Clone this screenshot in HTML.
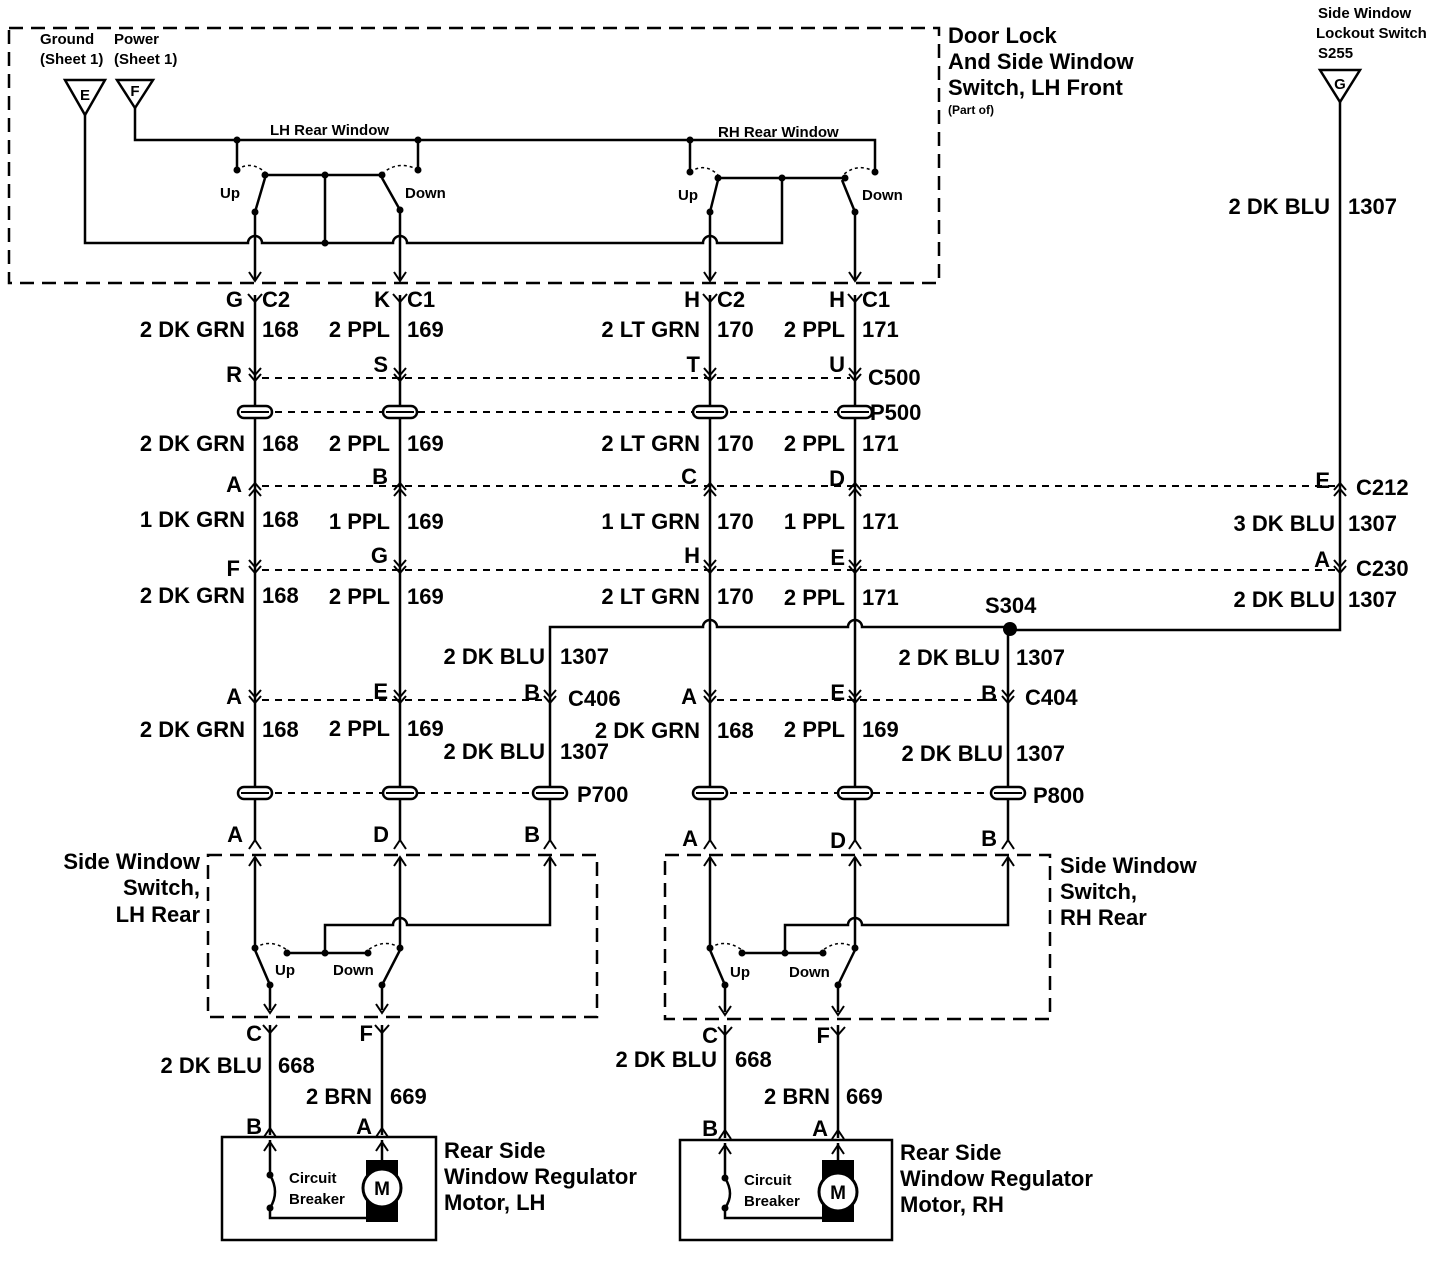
<!DOCTYPE html>
<html><head><meta charset="utf-8"><style>
html,body{margin:0;padding:0;background:#fff}
svg{display:block}
text{font-family:"Liberation Sans",sans-serif;font-weight:bold;fill:#000;font-size:22px}
.s{font-size:15px}
.r{text-anchor:end}
</style></head><body>
<svg width="1438" height="1264" viewBox="0 0 1438 1264">
<defs>
<path id="dn" d="M-6,-10 L0,-3 L6,-10 M-6,-4 L0,3 L6,-4" fill="none" stroke="#000" stroke-width="2"/>
<path id="up" d="M-6,10 L0,3 L6,10 M-6,4 L0,-3 L6,4" fill="none" stroke="#000" stroke-width="2"/>
<path id="yy" d="M-7,-8 L0,0 L7,-8" fill="none" stroke="#000" stroke-width="2"/>
<path id="ah" d="M-6,-9 L0,0 L6,-9" fill="none" stroke="#000" stroke-width="2"/>
<path id="au" d="M-6,9 L0,0 L6,9" fill="none" stroke="#000" stroke-width="2"/>
<g id="gr"><rect x="-17" y="-6" width="34" height="12" rx="6" fill="#fff" stroke="#000" stroke-width="2.5"/><line x1="-14" y1="0" x2="14" y2="0" stroke="#000" stroke-width="2"/></g>
</defs>
<g fill="none" stroke="#000" stroke-width="2.5">
<rect x="9" y="28" width="930" height="255" stroke-dasharray="14,8"/>
<path d="M65,80 L105,80 L85,115 Z"/>
<path d="M117,80 L153,80 L135,108 Z"/>
<path d="M1320,70 L1360,70 L1340,102 Z"/>
<path d="M135,108 V140 H875 V172"/>
<path d="M237,140 V170 M418,140 V170 M690,140 V172"/>
<path d="M85,115 V243 H248 a7,7 0 0 1 14,0 H393 a7,7 0 0 1 14,0 H703 a7,7 0 0 1 14,0 H782 V178"/>
<path d="M325,175 V243"/>
<path d="M265,175 H382 M715,178 H845"/>
<path d="M255,212 L265,178 M400,210 L382,178 M710,212 L718,180 M855,212 L842,180"/>
<path d="M255,212 V280 M400,210 V280 M710,212 V280 M855,212 V280"/>
<path d="M255,295 V840 M400,295 V840 M710,295 V840 M855,295 V840"/>
<path d="M1340,102 V630 H1008 M1008,627 V840"/>
<path d="M1008,627 H862 a7,7 0 0 0 -14,0 H717 a7,7 0 0 0 -14,0 H550 V840"/>
</g>
<g stroke="#000" stroke-width="1.5" fill="none" stroke-dasharray="3,3">
<path d="M237,170 Q250,160 265,172 M418,170 Q400,160 384,172 M690,172 Q705,162 718,175 M875,172 Q858,162 843,175"/>
<path d="M255,948 Q270,938 287,950 M400,948 Q385,938 368,950 M710,948 Q725,938 742,950 M855,948 Q840,938 823,950"/>
</g>
<g stroke="#000" stroke-width="2" stroke-dasharray="7,6">
<path d="M262,378 H850 M262,412 H850 M262,486 H1335 M262,570 H1335 M262,700 H545 M717,700 H1003 M262,793 H540 M717,793 H998"/>
</g>
<g fill="#000">
<circle cx="237" cy="140" r="3.5"/><circle cx="418" cy="140" r="3.5"/><circle cx="690" cy="140" r="3.5"/>
<circle cx="237" cy="170" r="3.5"/><circle cx="418" cy="170" r="3.5"/><circle cx="690" cy="172" r="3.5"/><circle cx="875" cy="172" r="3.5"/>
<circle cx="265" cy="175" r="3.5"/><circle cx="382" cy="175" r="3.5"/><circle cx="325" cy="175" r="3.5"/><circle cx="325" cy="243" r="3.5"/>
<circle cx="718" cy="178" r="3.5"/><circle cx="845" cy="178" r="3.5"/><circle cx="782" cy="178" r="3.5"/>
<circle cx="255" cy="212" r="3.5"/><circle cx="400" cy="210" r="3.5"/><circle cx="710" cy="212" r="3.5"/><circle cx="855" cy="212" r="3.5"/>
<circle cx="1010" cy="629" r="7"/>
</g>
<use href="#ah" x="255" y="281"/><use href="#ah" x="400" y="281"/><use href="#ah" x="710" y="281"/><use href="#ah" x="855" y="281"/>
<use href="#yy" x="255" y="302"/><use href="#yy" x="400" y="302"/><use href="#yy" x="710" y="302"/><use href="#yy" x="855" y="302"/>
<use href="#dn" x="255" y="378"/><use href="#dn" x="400" y="378"/><use href="#dn" x="710" y="378"/><use href="#dn" x="855" y="378"/>
<use href="#gr" x="255" y="412"/><use href="#gr" x="400" y="412"/><use href="#gr" x="710" y="412"/><use href="#gr" x="855" y="412"/>
<use href="#up" x="255" y="486"/><use href="#up" x="400" y="486"/><use href="#up" x="710" y="486"/><use href="#up" x="855" y="486"/><use href="#up" x="1340" y="486"/>
<use href="#dn" x="255" y="570"/><use href="#dn" x="400" y="570"/><use href="#dn" x="710" y="570"/><use href="#dn" x="855" y="570"/><use href="#dn" x="1340" y="570"/>
<use href="#dn" x="255" y="700"/><use href="#dn" x="400" y="700"/><use href="#dn" x="550" y="700"/><use href="#dn" x="710" y="700"/><use href="#dn" x="855" y="700"/><use href="#dn" x="1008" y="700"/>
<use href="#gr" x="255" y="793"/><use href="#gr" x="400" y="793"/><use href="#gr" x="550" y="793"/><use href="#gr" x="710" y="793"/><use href="#gr" x="855" y="793"/><use href="#gr" x="1008" y="793"/>
<use href="#au" x="255" y="840"/><use href="#au" x="400" y="840"/><use href="#au" x="550" y="840"/><use href="#au" x="710" y="840"/><use href="#au" x="855" y="840"/><use href="#au" x="1008" y="840"/>
<g fill="none" stroke="#000" stroke-width="2.5">
<rect x="208" y="855" width="389" height="162" stroke-dasharray="14,8"/>
<rect x="665" y="855" width="385" height="164" stroke-dasharray="14,8"/>
<path d="M255,857 V948 M400,857 V948 M550,857 V925 H407 a7,7 0 0 0 -14,0 H325 V953 M287,953 H368 M270,985 L255,950 M382,985 L400,950 M270,985 V1010 M382,985 V1010"/>
<path d="M710,857 V948 M855,857 V948 M1008,857 V925 H862 a7,7 0 0 0 -14,0 H785 V953 M742,953 H823 M725,985 L710,950 M838,985 L855,950 M725,985 V1012 M838,985 V1012"/>
<path d="M270,1025 V1135 M382,1025 V1135 M725,1025 V1138 M838,1025 V1138"/>
<rect x="222" y="1137" width="214" height="103"/>
<rect x="680" y="1140" width="212" height="100"/>
<path d="M270,1140 V1175 M270,1210 V1218 H382 V1210 M382,1140 V1160"/>
<path d="M725,1143 V1178 M725,1210 V1218 H838 V1210 M838,1143 V1160"/>
<path d="M270,1175 Q280,1192 270,1208 M725,1178 Q735,1194 725,1208"/>
</g>
<g fill="#000">
<circle cx="255" cy="948" r="3.5"/><circle cx="400" cy="948" r="3.5"/><circle cx="287" cy="953" r="3.5"/><circle cx="368" cy="953" r="3.5"/><circle cx="325" cy="953" r="3.5"/>
<circle cx="270" cy="985" r="3.5"/><circle cx="382" cy="985" r="3.5"/>
<circle cx="710" cy="948" r="3.5"/><circle cx="855" cy="948" r="3.5"/><circle cx="742" cy="953" r="3.5"/><circle cx="823" cy="953" r="3.5"/><circle cx="785" cy="953" r="3.5"/>
<circle cx="725" cy="985" r="3.5"/><circle cx="838" cy="985" r="3.5"/>
<circle cx="270" cy="1175" r="3.5"/><circle cx="270" cy="1208" r="3.5"/><circle cx="725" cy="1178" r="3.5"/><circle cx="725" cy="1208" r="3.5"/>
<rect x="366" y="1160" width="32" height="62"/><rect x="822" y="1160" width="32" height="62"/>
</g>
<circle cx="382" cy="1188" r="19" fill="#fff" stroke="#000" stroke-width="3"/>
<circle cx="838" cy="1192" r="19" fill="#fff" stroke="#000" stroke-width="3"/>
<use href="#au" x="255" y="857"/><use href="#au" x="400" y="857"/><use href="#au" x="550" y="857"/><use href="#au" x="710" y="857"/><use href="#au" x="855" y="857"/><use href="#au" x="1008" y="857"/>
<use href="#ah" x="270" y="1013"/><use href="#ah" x="382" y="1013"/><use href="#ah" x="725" y="1015"/><use href="#ah" x="838" y="1015"/>
<use href="#yy" x="270" y="1033"/><use href="#yy" x="382" y="1033"/><use href="#yy" x="725" y="1035"/><use href="#yy" x="838" y="1035"/>
<use href="#au" x="270" y="1128"/><use href="#au" x="382" y="1128"/><use href="#au" x="725" y="1130"/><use href="#au" x="838" y="1130"/>
<use href="#au" x="270" y="1142"/><use href="#au" x="382" y="1142"/><use href="#au" x="725" y="1145"/><use href="#au" x="838" y="1145"/>

<text x="948" y="43">Door Lock</text>
<text x="948" y="69">And Side Window</text>
<text x="948" y="95">Switch, LH Front</text>
<text x="948" y="114" style="font-size:12px">(Part of)</text>
<text x="40" y="44" class="s">Ground</text><text x="40" y="64" class="s">(Sheet 1)</text>
<text x="114" y="44" class="s">Power</text><text x="114" y="64" class="s">(Sheet 1)</text>
<text x="85" y="100" class="s" text-anchor="middle">E</text><text x="135" y="96" class="s" text-anchor="middle">F</text>
<text x="1340" y="89" class="s" text-anchor="middle">G</text>
<text x="1318" y="18" class="s">Side Window</text><text x="1316" y="38" class="s">Lockout Switch</text><text x="1318" y="58" class="s">S255</text>
<text x="270" y="135" class="s">LH Rear Window</text><text x="718" y="137" class="s">RH Rear Window</text>
<text x="220" y="198" class="s">Up</text><text x="405" y="198" class="s">Down</text>
<text x="678" y="200" class="s">Up</text><text x="862" y="200" class="s">Down</text>

<text x="243" y="307" class="r">G</text><text x="262" y="307">C2</text>
<text x="390" y="307" class="r">K</text><text x="407" y="307">C1</text>
<text x="700" y="307" class="r">H</text><text x="717" y="307">C2</text>
<text x="845" y="307" class="r">H</text><text x="862" y="307">C1</text>

<text x="245" y="337" class="r">2 DK GRN</text><text x="390" y="337" class="r">2 PPL</text><text x="700" y="337" class="r">2 LT GRN</text><text x="845" y="337" class="r">2 PPL</text>
<text x="242" y="382" class="r">R</text><text x="388" y="372" class="r">S</text><text x="700" y="372" class="r">T</text><text x="845" y="372" class="r">U</text>
<text x="245" y="451" class="r">2 DK GRN</text><text x="390" y="451" class="r">2 PPL</text><text x="700" y="451" class="r">2 LT GRN</text><text x="845" y="451" class="r">2 PPL</text>
<text x="242" y="492" class="r">A</text><text x="388" y="484" class="r">B</text><text x="697" y="484" class="r">C</text><text x="845" y="486" class="r">D</text><text x="1330" y="488" class="r">E</text>
<text x="245" y="527" class="r">1 DK GRN</text><text x="390" y="529" class="r">1 PPL</text><text x="700" y="529" class="r">1 LT GRN</text><text x="845" y="529" class="r">1 PPL</text><text x="1335" y="531" class="r">3 DK BLU</text>
<text x="240" y="576" class="r">F</text><text x="388" y="563" class="r">G</text><text x="700" y="563" class="r">H</text><text x="845" y="565" class="r">E</text><text x="1330" y="567" class="r">A</text>
<text x="245" y="603" class="r">2 DK GRN</text><text x="390" y="604" class="r">2 PPL</text><text x="700" y="604" class="r">2 LT GRN</text><text x="845" y="605" class="r">2 PPL</text><text x="1335" y="607" class="r">2 DK BLU</text>
<text x="545" y="664" class="r">2 DK BLU</text><text x="1000" y="665" class="r">2 DK BLU</text>
<text x="242" y="704" class="r">A</text><text x="388" y="699" class="r">E</text><text x="540" y="700" class="r">B</text><text x="697" y="704" class="r">A</text><text x="845" y="700" class="r">E</text><text x="997" y="701" class="r">B</text>
<text x="245" y="737" class="r">2 DK GRN</text><text x="390" y="736" class="r">2 PPL</text><text x="700" y="738" class="r">2 DK GRN</text><text x="845" y="737" class="r">2 PPL</text>
<text x="545" y="759" class="r">2 DK BLU</text><text x="1003" y="761" class="r">2 DK BLU</text>
<text x="243" y="842" class="r">A</text><text x="389" y="842" class="r">D</text><text x="540" y="842" class="r">B</text><text x="698" y="846" class="r">A</text><text x="846" y="848" class="r">D</text><text x="997" y="846" class="r">B</text>
<text x="1330" y="214" class="r">2 DK BLU</text>
<text x="262" y="337">168</text><text x="407" y="337">169</text><text x="717" y="337">170</text><text x="862" y="337">171</text>
<text x="868" y="385">C500</text><text x="870" y="420">P500</text>
<text x="262" y="451">168</text><text x="407" y="451">169</text><text x="717" y="451">170</text><text x="862" y="451">171</text>
<text x="1356" y="495">C212</text>
<text x="262" y="527">168</text><text x="407" y="529">169</text><text x="717" y="529">170</text><text x="862" y="529">171</text><text x="1348" y="531">1307</text>
<text x="1356" y="576">C230</text>
<text x="262" y="603">168</text><text x="407" y="604">169</text><text x="717" y="604">170</text><text x="862" y="605">171</text><text x="1348" y="607">1307</text>
<text x="985" y="613">S304</text>
<text x="560" y="664">1307</text><text x="1016" y="665">1307</text>
<text x="568" y="706">C406</text><text x="1025" y="705">C404</text>
<text x="262" y="737">168</text><text x="407" y="736">169</text><text x="717" y="738">168</text><text x="862" y="737">169</text>
<text x="560" y="759">1307</text><text x="1016" y="761">1307</text>
<text x="577" y="802">P700</text><text x="1033" y="803">P800</text>
<text x="1348" y="214">1307</text>
<text x="200" y="869" class="r">Side Window</text><text x="200" y="895" class="r">Switch,</text><text x="200" y="922" class="r">LH Rear</text>
<text x="1060" y="873">Side Window</text><text x="1060" y="899">Switch,</text><text x="1060" y="925">RH Rear</text>
<text x="275" y="975" class="s">Up</text><text x="333" y="975" class="s">Down</text>
<text x="730" y="977" class="s">Up</text><text x="789" y="977" class="s">Down</text>
<text x="262" y="1041" class="r">C</text><text x="373" y="1041" class="r">F</text>
<text x="718" y="1043" class="r">C</text><text x="830" y="1043" class="r">F</text>
<text x="262" y="1073" class="r">2 DK BLU</text><text x="278" y="1073">668</text>
<text x="372" y="1104" class="r">2 BRN</text><text x="390" y="1104">669</text>
<text x="717" y="1067" class="r">2 DK BLU</text><text x="735" y="1067">668</text>
<text x="830" y="1104" class="r">2 BRN</text><text x="846" y="1104">669</text>
<text x="262" y="1134" class="r">B</text><text x="372" y="1134" class="r">A</text>
<text x="718" y="1136" class="r">B</text><text x="828" y="1136" class="r">A</text>
<text x="289" y="1183" class="s">Circuit</text><text x="289" y="1204" class="s">Breaker</text>
<text x="744" y="1185" class="s">Circuit</text><text x="744" y="1206" class="s">Breaker</text>
<text x="382" y="1195" text-anchor="middle" style="font-size:19px">M</text>
<text x="838" y="1199" text-anchor="middle" style="font-size:19px">M</text>
<text x="444" y="1158">Rear Side</text><text x="444" y="1184">Window Regulator</text><text x="444" y="1210">Motor, LH</text>
<text x="900" y="1160">Rear Side</text><text x="900" y="1186">Window Regulator</text><text x="900" y="1212">Motor, RH</text>
</svg>
</body></html>
